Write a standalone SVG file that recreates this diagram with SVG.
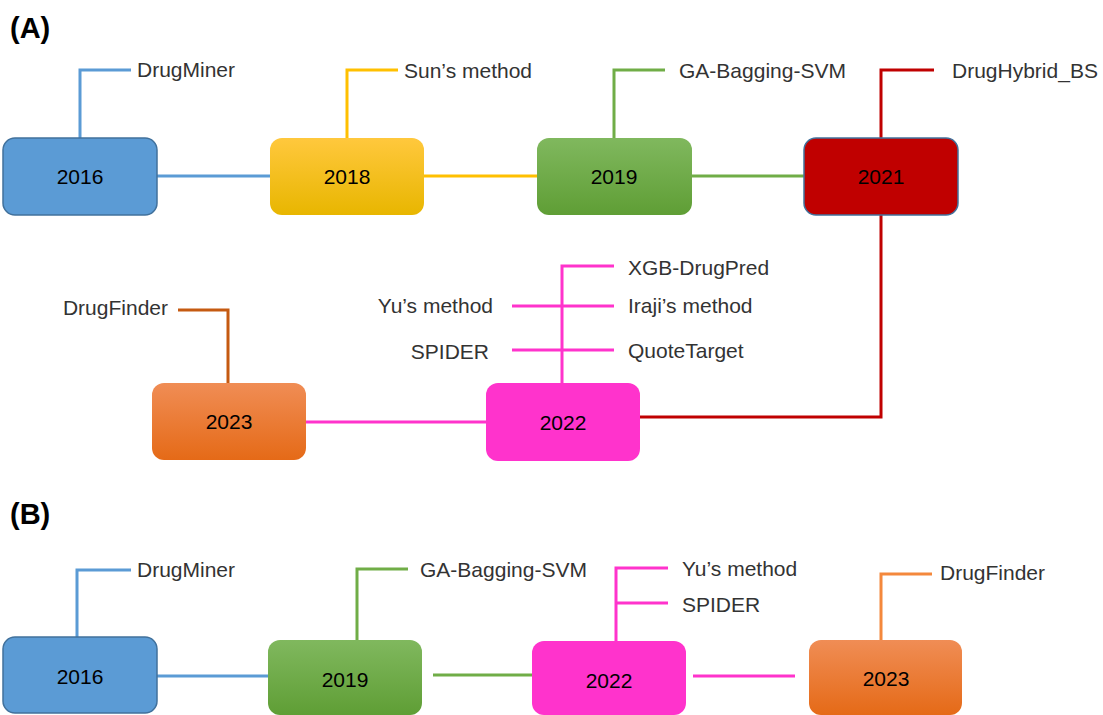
<svg xmlns="http://www.w3.org/2000/svg" width="1103" height="715" viewBox="0 0 1103 715">
<style>
.lbl{font-family:"Liberation Sans",Arial,sans-serif;font-size:21px;fill:#333}
.yr{font-family:"Liberation Sans",Arial,sans-serif;font-size:21px;fill:#000;text-anchor:middle}
.hd{font-family:"Liberation Sans",Arial,sans-serif;font-size:29px;font-weight:bold;fill:#000}
.ln{fill:none;stroke-width:3}
.b{stroke:#5b9bd5}.y{stroke:#ffc000}.g{stroke:#70ad47}.r{stroke:#c00000}.p{stroke:#ff33cc}.o{stroke:#c55a11}.o2{stroke:#f4883c}
</style>
<defs>
<linearGradient id="gy" x1="0" y1="0" x2="0" y2="1"><stop offset="0" stop-color="#ffc83d"/><stop offset="1" stop-color="#e8b600"/></linearGradient>
<linearGradient id="gg" x1="0" y1="0" x2="0" y2="1"><stop offset="0" stop-color="#80b85e"/><stop offset="1" stop-color="#5f9e35"/></linearGradient>
<linearGradient id="go" x1="0" y1="0" x2="0" y2="1"><stop offset="0" stop-color="#f08d55"/><stop offset="1" stop-color="#e56a17"/></linearGradient>
</defs>
<text class="hd" x="10" y="38">(A)</text>
<text class="hd" x="10" y="524">(B)</text>
<g id="connectors">
<polyline class="ln b" points="80,138 80,70 131,70"/>
<line class="ln b" x1="157" y1="176" x2="270" y2="176"/>
<polyline class="ln y" points="347,138 347,70 398,70"/>
<line class="ln y" x1="424" y1="176" x2="537" y2="176"/>
<polyline class="ln g" points="614,138 614,70 665,70"/>
<line class="ln g" x1="692" y1="176" x2="804" y2="176"/>
<polyline class="ln r" points="881,138 881,70 934,70"/>
<polyline class="ln r" points="881,215 881,417 640,417"/>
<polyline class="ln p" points="562,383 562,266 614,266"/>
<line class="ln p" x1="512" y1="306" x2="614" y2="306"/>
<line class="ln p" x1="512" y1="350" x2="614" y2="350"/>
<line class="ln p" x1="306" y1="422" x2="486" y2="422"/>
<polyline class="ln o" points="228,383 228,310 178,310"/>
<polyline class="ln b" points="77,637 77,570 131,570"/>
<line class="ln b" x1="157" y1="676" x2="268" y2="676"/>
<polyline class="ln g" points="357,640 357,569 408,569"/>
<line class="ln g" x1="433" y1="675" x2="532" y2="675"/>
<polyline class="ln p" points="616,641 616,568 668,568"/>
<line class="ln p" x1="616" y1="603" x2="668" y2="603"/>
<line class="ln p" x1="693" y1="676" x2="795" y2="676"/>
<polyline class="ln o2" points="881,640 881,574 932,574"/>
</g>
<g id="a2016"><rect x="3" y="138" width="154" height="77" rx="12" fill="#5b9bd5" stroke="#41719c" stroke-width="1.5"/><text class="yr" x="80" y="184">2016</text></g>
<g id="a2018"><rect x="270" y="138" width="154" height="77" rx="12" fill="url(#gy)"/><text class="yr" x="347" y="184">2018</text></g>
<g id="a2019"><rect x="537" y="138" width="155" height="77" rx="12" fill="url(#gg)"/><text class="yr" x="614" y="184">2019</text></g>
<g id="a2021"><rect x="804" y="138" width="154" height="77" rx="12" fill="#c00000" stroke="#41719c" stroke-width="1.5"/><text class="yr" x="881" y="184">2021</text></g>
<g id="a2022"><rect x="486" y="383" width="154" height="78" rx="12" fill="#ff33cc"/><text class="yr" x="563" y="430">2022</text></g>
<g id="a2023"><rect x="152" y="383" width="154" height="77" rx="12" fill="url(#go)"/><text class="yr" x="229" y="429">2023</text></g>
<g id="labelsA">
<text class="lbl" x="137" y="77">DrugMiner</text>
<text class="lbl" x="404" y="78">Sun’s method</text>
<text class="lbl" x="679" y="78">GA-Bagging-SVM</text>
<text class="lbl" x="952" y="78">DrugHybrid_BS</text>
<text class="lbl" x="628" y="275">XGB-DrugPred</text>
<text class="lbl" x="628" y="313">Iraji’s method</text>
<text class="lbl" x="628" y="358">QuoteTarget</text>
<text class="lbl" x="493" y="313" text-anchor="end">Yu’s method</text>
<text class="lbl" x="489" y="359" text-anchor="end">SPIDER</text>
<text class="lbl" x="168" y="315" text-anchor="end">DrugFinder</text>
</g>
<g id="b2016"><rect x="3" y="637" width="154" height="76" rx="12" fill="#5b9bd5" stroke="#41719c" stroke-width="1.5"/><text class="yr" x="80" y="684">2016</text></g>
<g id="b2019"><rect x="268" y="640" width="154" height="75" rx="12" fill="url(#gg)"/><text class="yr" x="345" y="687">2019</text></g>
<g id="b2022"><rect x="532" y="641" width="154" height="74" rx="12" fill="#ff33cc"/><text class="yr" x="609" y="688">2022</text></g>
<g id="b2023"><rect x="809" y="640" width="153" height="75" rx="12" fill="url(#go)"/><text class="yr" x="886" y="686">2023</text></g>
<g id="labelsB">
<text class="lbl" x="137" y="577">DrugMiner</text>
<text class="lbl" x="420" y="577">GA-Bagging-SVM</text>
<text class="lbl" x="682" y="576">Yu’s method</text>
<text class="lbl" x="682" y="612">SPIDER</text>
<text class="lbl" x="940" y="580">DrugFinder</text>
</g>
</svg>
